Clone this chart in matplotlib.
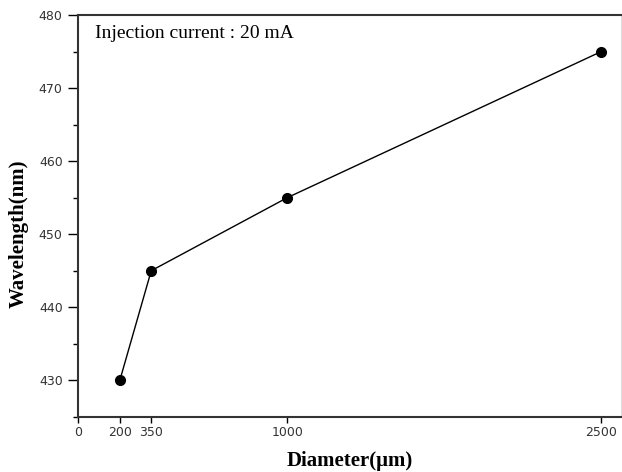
import matplotlib
matplotlib.use("Agg")
import matplotlib.pyplot as plt
from matplotlib.ticker import MultipleLocator

# data
diameter = [200, 350, 1000, 2500]      # um
wavelength = [430, 445, 455, 475]      # nm
xticks = [0, 200, 350, 1000, 2500]
yticks = [430, 440, 450, 460, 470, 480]

fig = plt.figure(figsize=(6.22, 4.72), dpi=100)
ax = fig.add_axes([0.1254, 0.117, 0.873, 0.851])

ax.plot(diameter, wavelength, color="black", lw=1.0, marker="o",
        markersize=7, markerfacecolor="black")

ax.set_xlim(0, 2595)
ax.set_ylim(425, 480)
ax.set_xticks(xticks)
ax.set_yticks(yticks)
ax.yaxis.set_minor_locator(MultipleLocator(5))

ax.tick_params(axis="both", which="major", direction="out", width=1,
               labelsize=9, labelcolor="#333333")
ax.tick_params(axis="y", which="major", length=7, pad=4)
ax.tick_params(axis="x", which="major", length=4.5, pad=2.5)
ax.tick_params(axis="y", which="minor", direction="out", length=3.5, width=1)
for lbl in ax.get_xticklabels() + ax.get_yticklabels():
    lbl.set_family("DejaVu Sans")

for s in ["left", "bottom", "top"]:
    ax.spines[s].set_linewidth(1.5)
    ax.spines[s].set_color("#333333")
ax.spines["right"].set_linewidth(0.8)
ax.spines["right"].set_color("#dddddd")

ax.set_xlabel("Diameter(\u03bcm)", family="Liberation Serif",
              fontweight="bold", fontsize=15)
ax.set_ylabel("Wavelength(nm)", family="Liberation Serif",
              fontweight="bold", fontsize=15)
ax.xaxis.set_label_coords(0.5, -0.085)
ax.yaxis.set_label_coords(-0.091, 0.455)

ax.text(0.031, 0.955, "Injection current : 20 mA", transform=ax.transAxes,
        family="Liberation Serif", fontsize=14, va="center", ha="left")

fig.savefig("out.png", dpi=100)
